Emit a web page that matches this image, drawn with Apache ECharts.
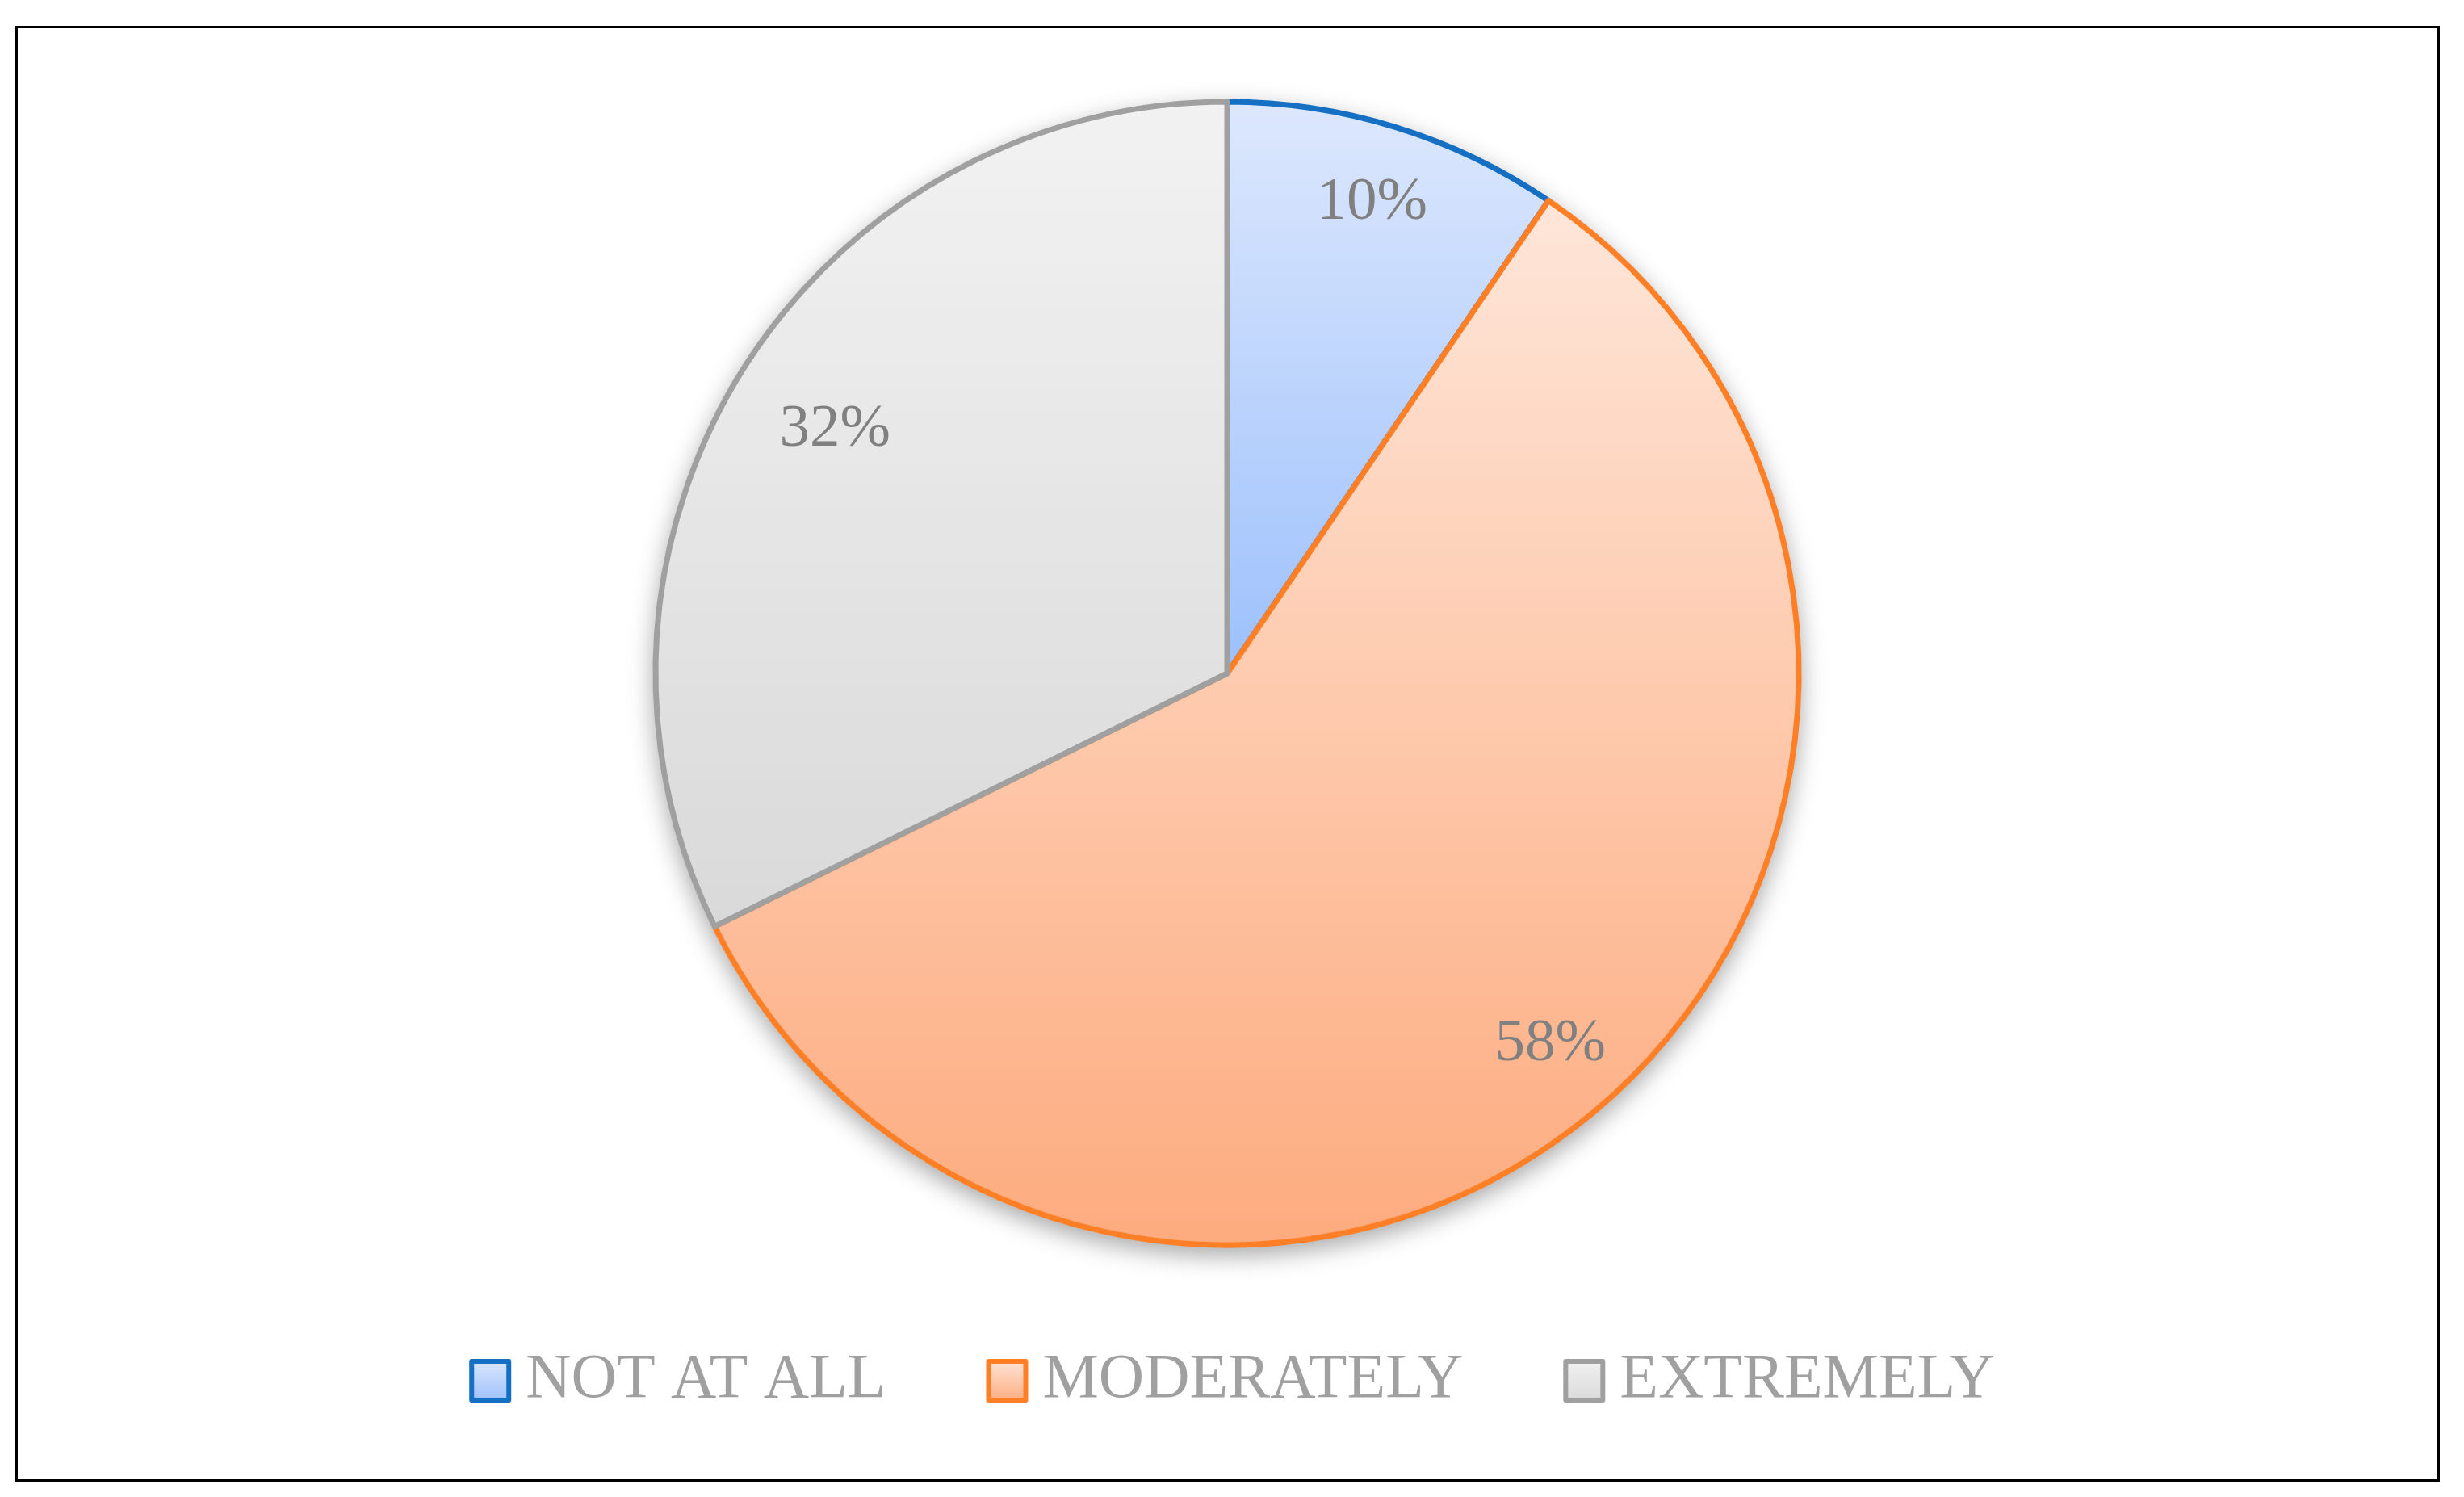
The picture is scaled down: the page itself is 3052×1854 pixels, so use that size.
<!DOCTYPE html>
<html>
<head>
<meta charset="utf-8">
<script src="https://cdn.jsdelivr.net/npm/echarts@6/dist/echarts.min.js"></script>
<style>
html,body{margin:0;padding:0;background:#fff;}
#frame{position:absolute;left:19px;top:32px;width:2997px;height:1797px;border:3.5px solid #000;}
#chart{position:absolute;left:0;top:0;width:3052px;height:1854px;}
</style>
</head>
<body>
<div id="frame"></div>
<div id="chart"></div>
<script>
const categories = ['NOT AT ALL', 'MODERATELY', 'EXTREMELY'];
const values = [9.5, 58.2, 32.3];
const gradTop = ['#DDE8FD', '#FEE6D9', '#F2F2F2'];
const gradBottom = ['#9CC0FC', '#FDAB7E', '#D9D9D9'];
const edgeColors = ['#1570C4', '#FF7F27', '#A0A0A0'];

const C = [1520, 834];
const R = 708;
const labelFont = {fontFamily: '"Liberation Serif", serif', fontSize: 75, color: '#808080'};

const mainData = categories.map((n, i) => ({
  name: n, value: values[i],
  itemStyle: {
    color: {type: 'linear', x: 0, y: 0, x2: 0, y2: 1,
      colorStops: [{offset: 0, color: gradTop[i]}, {offset: 1, color: gradBottom[i]}]},
    borderColor: edgeColors[i], borderWidth: 7
  }
}));

function helperData(showIdx) {
  return categories.map((n, i) => ({
    name: n, value: values[i],
    label: {show: showIdx.includes(i)}
  }));
}

const helperBase = {
  type: 'pie', center: C, startAngle: 90, clockwise: true, silent: true,
  legendHoverLink: false, animation: false,
  itemStyle: {color: 'rgba(0,0,0,0)', borderWidth: 0},
  label: Object.assign({position: 'inside', formatter: p => Math.round(p.percent) + '%'}, labelFont),
  labelLine: {show: false},
  emphasis: {disabled: true}
};

const chart = echarts.init(document.getElementById('chart'));
chart.setOption({
  animation: false,
  legend: {
    data: categories,
    bottom: 100,
    left: 'center',
    itemWidth: 46, itemHeight: 48,
    itemGap: 124,
    icon: 'rect',
    selectedMode: false,
    itemStyle: {borderWidth: 6},
    textStyle: {fontFamily: '"Liberation Serif", serif', fontSize: 78, color: '#A0A0A0', padding: [0, 0, 0, 16]}
  },
  series: [
    {
      type: 'pie', center: C, radius: R + 3, silent: true, animation: false,
      data: [{value: 1, name: '_bg'}],
      itemStyle: {color: '#ffffff', shadowBlur: 30, shadowOffsetY: 10, shadowColor: 'rgba(0,0,0,0.35)'},
      label: {show: false}, labelLine: {show: false}, emphasis: {disabled: true}, z: 1
    },
    {
      type: 'pie', center: C, radius: R, startAngle: 90, clockwise: true,
      data: mainData, label: {show: false}, labelLine: {show: false},
      emphasis: {disabled: true}, z: 2
    },
    Object.assign({}, helperBase, {radius: [505, R], data: helperData([0, 1]), z: 3}),
    Object.assign({}, helperBase, {radius: [430, R], data: helperData([2]), z: 3})
  ]
});
</script>
</body>
</html>
